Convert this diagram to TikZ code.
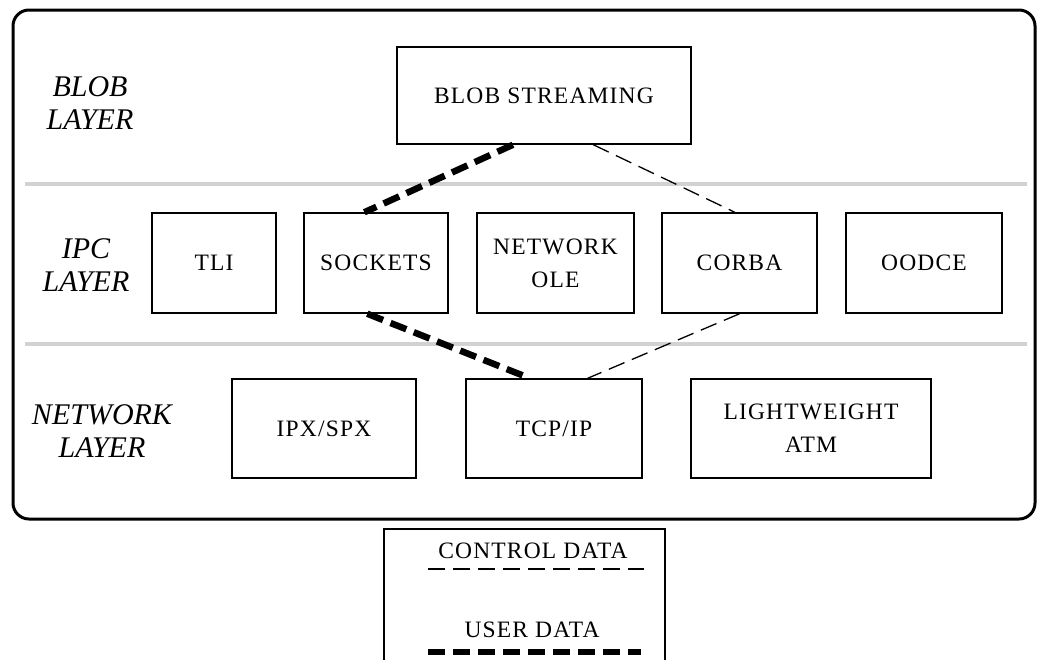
\documentclass[tikz,border=0pt]{standalone}
\usepackage{fontspec}
\setmainfont{Liberation Serif}
\newfontfamily\boxfont[LetterSpace=5]{Liberation Serif}
\usetikzlibrary{calc}
\tikzset{
  unitbox/.style={draw, line width=1.5pt, minimum height=100pt, align=center,
    inner sep=0pt, font=\boxfont\fontsize{23.5}{33}\selectfont},
  layername/.style={align=center, inner sep=0pt, font=\fontsize{30}{33}\selectfont\itshape},
  ctrlline/.style={line width=1.3pt, dash pattern=on 17pt off 8pt},
  userline/.style={line width=6.5pt, dash pattern=on 17pt off 8pt},
  layersep/.style={gray!35, line width=4pt},
  frame/.style={line width=3pt, rounded corners=16pt},
  legendtext/.style={inner sep=0pt, anchor=base, font=\boxfont\fontsize{23.5}{28}\selectfont},
}
\begin{document}
\begin{tikzpicture}[x=1pt,y=-1pt]
\clip (0,0) rectangle (1040,659);

% outer frame and the separators between the three layers
\draw[frame] (13,10) rectangle (1035,519);
\draw[layersep] (25,184) -- (1027,184);
\draw[layersep] (25,344) -- (1027,344);

% layer names
\node[layername] (lblob) at (90,103.5) {BLOB\\LAYER};
\node[layername] (lipc) at (86,265) {IPC\\LAYER};
\node[layername] (lnet) at (102,431.5) {NETWORK\\LAYER};

% blob layer
\node[unitbox, minimum width=294pt, minimum height=97pt] (blob) at (544,95.5) {BLOB STREAMING};

% IPC layer
\node[unitbox, minimum width=124pt] (tli) at (214,263) {TLI};
\node[unitbox, minimum width=144pt] (sockets) at (376,263) {SOCKETS};
\node[unitbox, minimum width=157pt] (ole) at (555.5,263) {NETWORK\\OLE};
\node[unitbox, minimum width=155pt] (corba) at (739.5,263) {CORBA};
\node[unitbox, minimum width=156pt] (oodce) at (924,263) {OODCE};

% network layer
\node[unitbox, minimum width=184pt, minimum height=99pt] (ipx) at (324,428.5) {IPX/SPX};
\node[unitbox, minimum width=176pt, minimum height=99pt] (tcp) at (554,428.5) {TCP/IP};
\node[unitbox, minimum width=240pt, minimum height=99pt] (atm) at (811,428.5) {LIGHTWEIGHT\\ATM};

% data paths
\draw[userline] ($(blob.south west)!0.395!(blob.south east)$) -- ($(sockets.north west)!0.42!(sockets.north east)$);
\draw[ctrlline] ($(blob.south west)!0.667!(blob.south east)$) -- ($(corba.north west)!0.47!(corba.north east)$);
\draw[userline] ($(sockets.south west)!0.44!(sockets.south east)$) -- ($(tcp.north west)!0.364!(tcp.north east)$);
\draw[ctrlline] (corba.south) -- ($(tcp.north west)!0.69!(tcp.north east)$);

% legend
\node[draw, line width=1.5pt, minimum width=281pt, minimum height=200pt,
  anchor=north west, inner sep=0pt] (legend) at (383,528) {};
\node[legendtext] (lctrl) at (533,558) {CONTROL DATA};
\node[legendtext] (luser) at (532,637) {USER DATA};
\coordinate (ca) at (428,569);
\coordinate (cb) at (644,569);
\coordinate (ua) at (428,652);
\coordinate (ub) at (641,652);
\draw[ctrlline] (ca) -- (cb);
\draw[userline] (ua) -- (ub);
\end{tikzpicture}
\end{document}
